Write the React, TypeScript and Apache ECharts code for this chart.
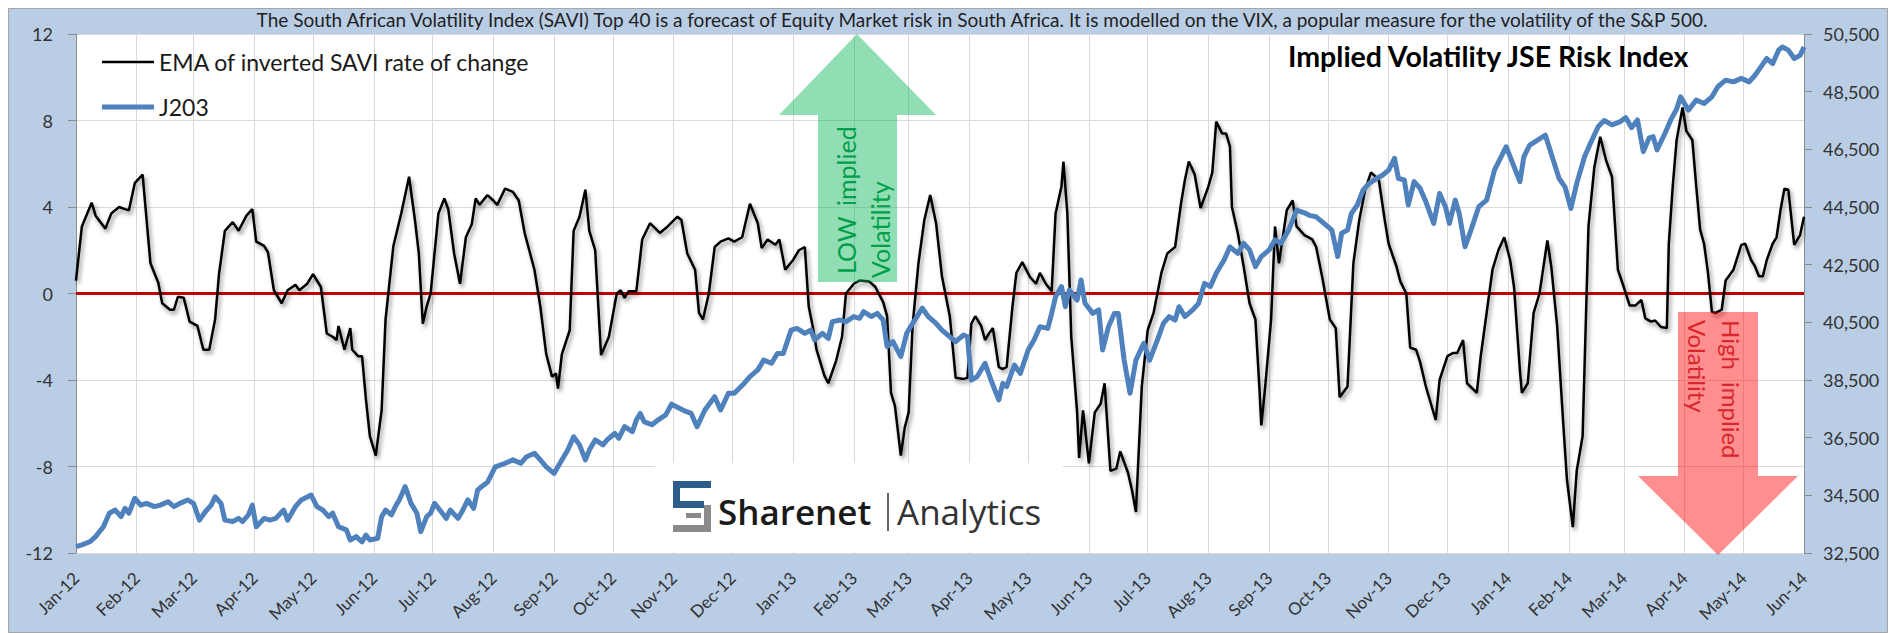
import React, { useEffect, useRef } from "react";
import * as echarts from "echarts";

// ---------- axis structure ----------
const MONTH_NAMES = ["Jan", "Feb", "Mar", "Apr", "May", "Jun", "Jul", "Aug", "Sep", "Oct", "Nov", "Dec"];
const AXIS_START = [2012, 0, 1]; // 1 Jan 2012
const AXIS_DAYS = 882; // up to 1 Jun 2014

const dayCategories: string[] = [];
for (let i = 0; i <= AXIS_DAYS; i++) {
  const d = new Date(AXIS_START[0], AXIS_START[1], AXIS_START[2] + i);
  const mm = String(d.getMonth() + 1).padStart(2, "0");
  const dd = String(d.getDate()).padStart(2, "0");
  dayCategories.push(`${d.getFullYear()}-${mm}-${dd}`);
}

const leftAxis = { min: -12, max: 12, interval: 4 };
const rightTicks = [32500, 34500, 36500, 38500, 40500, 42500, 44500, 46500, 48500, 50500];

// ---------- data (day offset from 1 Jan 2012) ----------
const emaDays = [
  0, 3, 8, 10, 15, 18, 22, 25, 27, 30, 34, 38, 42, 44, 48, 50, 52, 55, 58, 62, 65, 68, 71, 73, 76, 80, 83, 87, 90, 92,
  96, 98, 101, 105, 108, 112, 114, 118, 121, 125, 128, 131, 133, 134, 137, 140, 141, 144, 146, 148, 150, 153, 156, 158,
  162, 166, 170, 173, 175, 177, 179, 181, 185, 188, 190, 193, 196, 199, 202, 204, 206, 210, 213, 215, 219, 223, 226,
  229, 234, 237, 240, 243, 245, 246, 248, 252, 254, 257, 260, 262, 265, 268, 272, 276, 278, 280, 282, 286, 289, 293,
  298, 302, 307, 309, 312, 316, 318, 320, 323, 326, 329, 333, 336, 340, 344, 348, 350, 353, 357, 359, 362, 366, 369,
  372, 374, 376, 378, 382, 384, 388, 391, 393, 397, 400, 405, 408, 412, 414, 416, 418, 421, 423, 425, 427, 430, 433,
  436, 439, 442, 446, 449, 453, 455, 457, 459, 462, 464, 466, 468, 471, 473, 475, 478, 480, 483, 487, 490, 492, 495,
  498, 500, 503, 504, 506, 508, 511, 512, 514, 515, 517, 520, 523, 525, 528, 531, 533, 537, 539, 541, 544, 547, 550,
  554, 557, 561, 564, 566, 568, 571, 574, 578, 580, 582, 585, 587, 589, 590, 593, 596, 599, 602, 604, 605, 607, 610,
  612, 614, 618, 621, 623, 627, 631, 633, 636, 640, 643, 645, 649, 652, 655, 658, 661, 665, 668, 670, 674, 676, 679,
  681, 684, 686, 689, 694, 696, 700, 703, 705, 708, 710, 715, 717, 720, 723, 726, 729, 732, 734, 737, 738, 741, 744,
  747, 751, 753, 756, 759, 761, 764, 766, 769, 772, 775, 778, 781, 784, 787, 790, 793, 796, 799, 801, 804, 806, 809,
  812, 813, 815, 817, 820, 822, 825, 827, 829, 831, 833, 835, 837, 840, 842, 846, 850, 852, 855, 857, 859, 861, 863,
  866, 868, 870, 872, 874, 877, 880, 882,
];
const emaValues = [
  0.6, 3.1, 4.2, 3.6, 3.0, 3.7, 4.0, 3.9, 3.85, 5.1, 5.5, 1.4, 0.5, -0.45, -0.75, -0.75, -0.15, -0.2, -1.3, -1.5, -2.6,
  -2.6, -1.2, 0.9, 2.9, 3.3, 2.9, 3.6, 3.9, 2.4, 2.2, 1.9, 0.15, -0.45, 0.15, 0.4, 0.15, 0.45, 0.9, 0.3, -1.85, -2.0,
  -2.15, -1.5, -2.6, -1.6, -2.6, -2.9, -2.9, -4.9, -6.6, -7.5, -5.4, -1.2, 2.2, 3.7, 5.4, 3.4, 1.85, -1.4, -0.6, 0,
  3.7, 4.4, 3.9, 1.85, 0.45, 2.6, 3.2, 4.4, 4.1, 4.55, 4.3, 4.1, 4.85, 4.7, 4.3, 2.8, 1.1, -0.6, -2.8, -3.85, -3.7,
  -4.4, -2.8, -1.7, 2.9, 3.55, 4.8, 2.9, 2.0, -2.85, -2.0, 0, 0.15, -0.2, 0.1, 0.1, 2.5, 3.25, 2.8, 3.1, 3.55, 3.4,
  1.85, 1.1, -0.9, -1.2, 0, 2.15, 2.4, 2.55, 2.4, 2.6, 4.15, 3.25, 2.1, 2.5, 2.25, 2.5, 1.1, 1.55, 2.0, 2.15, -0.6,
  -1.5, -2.6, -3.8, -4.15, -3.1, -2.0, 0, 0.45, 0.6, 0.55, 0.3, -0.4, -1.05, -4.6, -5.2, -7.5, -6.2, -5.5, -1.5, 1.4,
  3.4, 4.55, 3.25, 0.8, -1.05, -3.9, -3.95, -3.9, -1.4, -1.05, -1.5, -2.15, -1.85, -1.6, -3.4, -3.5, -3.4, -0.6, 0.95,
  1.45, 0.75, 0.45, 0.95, 0.45, 0.1, 3.7, 4.95, 6.1, 3.7, -2.0, -5.5, -7.6, -5.4, -6.2, -7.85, -5.5, -5.1, -4.15,
  -8.2, -8.1, -7.3, -8.3, -9.1, -10.1, -4.3, -1.7, -0.9, 0.95, 1.85, 2.15, 4.15, 5.25, 6.1, 5.5, 3.95, 4.95, 5.6,
  7.95, 7.4, 7.4, 6.8, 4.0, 2.8, 1.25, -0.45, -1.2, -4.3, -6.1, -4.3, -1.2, 3.1, 1.4, 3.85, 4.3, 3.1, 2.7, 2.5, 2.15,
  0.8, -1.2, -1.6, -4.8, -4.3, 1.4, 3.4, 4.8, 5.6, 5.25, 3.4, 2.3, 1.25, 0.55, 0, -2.5, -2.6, -3.15, -4.3, -5.85,
  -4.0, -2.9, -2.75, -2.75, -2.15, -4.15, -4.6, -2.9, -0.9, 1.1, 2.0, 2.6, 1.55, 0.3, -3.55, -4.6, -4.15, -0.9, 0,
  2.45, 1.25, -1.5, -5.85, -8.6, -10.8, -8.2, -6.6, 3.1, 5.85, 7.25, 6.15, 5.4, 1.1, 0.3, -0.55, -0.55, -0.3, -1.15,
  -1.3, -1.25, -1.55, -1.6, 2.3, 4.95, 7.1, 8.6, 7.5, 7.1, 4.95, 2.95, 2.3, 0.95, -0.85, -0.9, -0.75, 0.6, 1.1, 2.25,
  2.3, 1.55, 1.25, 0.8, 0.8, 1.55, 2.3, 2.6, 3.85, 4.85, 4.8, 2.25, 2.7, 3.55,
];

const j203Days = [
  0, 3, 7, 10, 14, 17, 20, 23, 25, 27, 30, 33, 36, 40, 43, 47, 50, 53, 57, 60, 63, 66, 69, 71, 74, 76, 80, 83, 85, 88,
  90, 92, 96, 99, 102, 106, 108, 112, 115, 120, 123, 126, 129, 131, 134, 138, 140, 143, 146, 148, 150, 154, 156, 158,
  161, 163, 165, 168, 171, 174, 176, 179, 181, 183, 187, 189, 191, 195, 197, 200, 203, 205, 207, 210, 214, 219, 223,
  227, 230, 234, 237, 240, 244, 247, 251, 254, 257, 260, 262, 265, 269, 271, 275, 277, 280, 284, 286, 288, 290, 294,
  297, 301, 304, 308, 311, 314, 317, 321, 326, 329, 333, 336, 341, 344, 348, 351, 355, 358, 361, 365, 368, 372, 375,
  377, 381, 384, 386, 390, 393, 397, 400, 402, 406, 409, 412, 414, 417, 421, 424, 427, 432, 435, 439, 442, 446, 449,
  453, 455, 457, 460, 464, 467, 471, 473, 475, 479, 482, 486, 489, 492, 496, 498, 500, 503, 505, 507, 511, 513, 515,
  519, 522, 524, 527, 530, 532, 535, 538, 541, 545, 548, 552, 555, 558, 561, 563, 566, 570, 573, 576, 579, 582, 586,
  589, 593, 596, 599, 602, 605, 609, 612, 615, 619, 623, 627, 630, 633, 637, 641, 644, 646, 649, 651, 654, 657, 660,
  664, 667, 670, 673, 675, 678, 680, 683, 686, 689, 693, 696, 699, 701, 704, 706, 709, 712, 716, 720, 724, 730, 734,
  737, 739, 742, 746, 750, 754, 757, 760, 763, 766, 770, 773, 777, 780, 784, 788, 791, 794, 797, 800, 803, 805, 807,
  811, 814, 817, 819, 823, 827, 831, 835, 838, 842, 846, 850, 854, 857, 860, 863, 866, 869, 871, 874, 877, 880, 882,
];
const j203Values = [
  32720, 32780, 32890, 33070, 33410, 33880, 33990, 33760, 34050, 33880, 34400, 34160, 34220, 34110, 34160, 34280,
  34110, 34220, 34340, 34220, 33640, 33930, 34160, 34450, 34220, 33640, 33590, 33700, 33590, 33820, 34160, 33410,
  33700, 33640, 33700, 33990, 33640, 34110, 34340, 34510, 34110, 33990, 33760, 33880, 33410, 33300, 32950, 33070,
  32890, 33120, 32950, 33010, 33760, 33990, 33820, 34110, 34340, 34800, 34220, 33880, 33240, 33760, 33880, 34220,
  33880, 33700, 33990, 33700, 33930, 34340, 34050, 34680, 34800, 34950, 35490, 35610, 35730, 35610, 35840, 35960,
  35730, 35490, 35260, 35610, 36070, 36530, 36250, 35730, 36070, 36420, 36250, 36420, 36650, 36480, 36880, 36710,
  37110, 37340, 37050, 36950, 37110, 37290, 37660, 37520, 37420, 37340, 36880, 37460, 37920, 37460, 38040, 38040,
  38380, 38620, 38850, 39190, 39080, 39420, 39420, 40230, 40290, 40120, 40230, 39890, 40120, 39940, 40520, 40580,
  40520, 40700, 40640, 40870, 40700, 40810, 40580, 39660, 39830, 39310, 40120, 40460, 40990, 40700, 40460, 40230,
  40000, 39830, 40060, 40000, 38500, 38620, 39080, 38500, 37810, 38380, 38270, 39020, 38730, 39540, 39890, 40350,
  40290, 40810, 41390, 41740, 41040, 41620, 41270, 41970, 41160, 40810, 40930, 39540, 40350, 40810, 40810, 39190,
  38040, 39190, 39770, 39190, 39890, 40460, 40700, 40580, 41040, 40700, 40930, 41160, 41850, 41740, 42200, 42660,
  43120, 42890, 43240, 43010, 42430, 42780, 43010, 43360, 43240, 43700, 44390, 44300, 44200, 44160, 43930, 43700,
  42780, 43590, 43700, 44280, 44570, 45090, 45320, 45490, 45610, 45780, 46190, 45490, 45440, 44570, 45380, 45150,
  44680, 43930, 44970, 44510, 43930, 44740, 44280, 43120, 43700, 44510, 44740, 45780, 46590, 45900, 45380, 46240,
  46650, 46820, 46990, 46130, 45490, 45200, 44450, 45320, 46240, 46710, 47290, 47500, 47350, 47450, 47600, 47250,
  47520, 46420, 46900, 46940, 46480, 47050, 47520, 47900, 48320, 47860, 48210, 48090, 48320, 48670, 48900, 48840,
  48960, 48840, 49070, 49360, 49650, 49470, 49940, 50050, 49940, 49650, 49760, 50050,
];

const zeroLineDays = [0, AXIS_DAYS];
const zeroLineValues = [0, 0];

// ---------- texts ----------
const SERIES_EMA = "EMA of inverted SAVI rate of change";
const SERIES_J203 = "J203";
const TOP_NOTE =
  "The South African Volatility Index (SAVI) Top 40 is a forecast of Equity Market risk in South Africa. It is modelled on the VIX, a popular measure for the volatility of the S&P 500.";
const MAIN_TITLE = "Implied Volatility JSE Risk Index";

const FONT = "Lato, 'Liberation Sans', sans-serif";
const LOGO_FONT = "'Open Sans', sans-serif";

function fmtMonth(v: string) {
  const [y, m] = v.split("-");
  return `${MONTH_NAMES[parseInt(m, 10) - 1]}-${y.slice(2)}`;
}
const isMonthStart = (_i: number, v: string) => v.endsWith("-01");

const rotText = (text: string, x: number, y: number, rotation: number, fill: string, fontSize: number) => ({
  type: "text",
  z: 51,
  silent: true,
  x,
  y,
  rotation,
  style: { text, fontFamily: FONT, fontSize, fill, align: "left", verticalAlign: "middle" },
});

export default function App() {
  const ref = useRef<HTMLDivElement>(null);

  useEffect(() => {
    if (!ref.current) return;
    const chart = echarts.init(ref.current, undefined, { renderer: "svg" });
    const BLUE = "#2e5d8c";
    const GREY = "#8a8a8a";

    const option: any = {
      animation: false,
      backgroundColor: "#b9cde5",
      title: [
        {
          text: TOP_NOTE,
          left: 974,
          top: 2,
          padding: 0,
          textAlign: "center",
          textStyle: { fontFamily: FONT, fontSize: 19, fontWeight: "normal", color: "#1f1f1f" },
        },
        {
          text: MAIN_TITLE,
          left: 1280,
          top: 33,
          padding: 0,
          textStyle: { fontFamily: FONT, fontSize: 28.5, fontWeight: "bold", color: "#000" },
        },
      ],
      legend: {
        data: [
          { name: SERIES_EMA, icon: "path://M0,0 H52 V2.5 H0 Z" },
          { name: SERIES_J203, icon: "path://M0,0 H52 V5 H0 Z" },
        ],
        orient: "vertical",
        left: 94,
        top: 42,
        padding: 0,
        itemWidth: 52,
        itemHeight: 14,
        itemGap: 21,
        selectedMode: false,
        textStyle: { fontFamily: FONT, fontSize: 23, color: "#1a1a1a", lineHeight: 24 },
      },
      grid: {
        left: 68,
        right: 84,
        top: 26,
        bottom: 80,
        show: true,
        backgroundColor: "#ffffff",
        borderWidth: 0,
      },
      xAxis: {
        type: "category",
        data: dayCategories,
        boundaryGap: false,
        axisLine: { show: true, lineStyle: { color: "#8c8c8c" } },
        axisTick: { show: false },
        axisLabel: {
          interval: isMonthStart,
          formatter: fmtMonth,
          rotate: 45,
          margin: 22,
          fontFamily: FONT,
          fontSize: 17,
          color: "#333",
        },
        splitLine: { show: true, interval: isMonthStart, lineStyle: { color: "#d9d9d9", width: 1 } },
      },
      yAxis: [
        {
          type: "value",
          position: "left",
          min: leftAxis.min,
          max: leftAxis.max,
          interval: leftAxis.interval,
          axisLine: { show: true, lineStyle: { color: "#8c8c8c" } },
          axisTick: { show: true, inside: false, length: 8, lineStyle: { color: "#8c8c8c" } },
          axisLabel: { margin: 23, fontFamily: FONT, fontSize: 18, color: "#333" },
          splitLine: { show: true, lineStyle: { color: "#d9d9d9", width: 1 } },
        },
        {
          type: "value",
          position: "right",
          min: rightTicks[0],
          max: rightTicks[rightTicks.length - 1],
          axisLine: { show: true, lineStyle: { color: "#8c8c8c" } },
          axisTick: { show: true, length: 8, customValues: rightTicks, lineStyle: { color: "#8c8c8c" } },
          axisLabel: {
            margin: 19,
            customValues: rightTicks,
            fontFamily: FONT,
            fontSize: 18,
            color: "#333",
            formatter: (v: number) => v.toLocaleString("en-US"),
          },
          splitLine: { show: false },
        },
      ],
      series: [
        {
          name: "zero",
          type: "line",
          yAxisIndex: 0,
          data: zeroLineDays.map((d, i) => [d, zeroLineValues[i]]),
          symbol: "none",
          silent: true,
          z: 1,
          lineStyle: { color: "#c00000", width: 3 },
        },
        {
          name: SERIES_EMA,
          type: "line",
          yAxisIndex: 0,
          data: emaDays.map((d, i) => [d, emaValues[i]]),
          symbol: "none",
          z: 3,
          color: "#000000",
          lineStyle: {
            color: "#000000",
            width: 2.5,
            shadowColor: "rgba(0,0,0,0.45)",
            shadowBlur: 4,
            shadowOffsetX: 2,
            shadowOffsetY: 3,
          },
        },
        {
          name: SERIES_J203,
          type: "line",
          yAxisIndex: 1,
          data: j203Days.map((d, i) => [d, j203Values[i]]),
          symbol: "none",
          z: 4,
          color: "#4f81bd",
          lineStyle: { color: "#4f81bd", width: 5, join: "round" },
        },
      ],
      graphic: [
        {
          type: "rect",
          z: 1,
          silent: true,
          shape: { x: 0.5, y: 0.5, width: 1879, height: 624 },
          style: { fill: "none", stroke: "#a6a6a6", lineWidth: 1 },
        },
        // green "low volatility" arrow
        {
          type: "polygon",
          z: 50,
          silent: true,
          shape: {
            points: [
              [849, 26],
              [928, 107],
              [889, 107],
              [889, 274],
              [810, 274],
              [810, 107],
              [771, 107],
            ],
          },
          style: { fill: "rgba(0,176,80,0.43)" },
        },
        rotText("LOW", 838, 266, Math.PI / 2, "#00a04a", 25),
        rotText("implied", 838, 198, Math.PI / 2, "#00a04a", 25),
        rotText("Volatility", 872, 270, Math.PI / 2, "#00a04a", 25),
        // red "high volatility" arrow
        {
          type: "polygon",
          z: 50,
          silent: true,
          shape: {
            points: [
              [1710, 547],
              [1790, 468],
              [1750, 468],
              [1750, 304],
              [1670, 304],
              [1670, 468],
              [1630, 468],
            ],
          },
          style: { fill: "rgba(255,0,0,0.44)" },
        },
        rotText("High  implied", 1723, 312, -Math.PI / 2, "#d9262c", 24),
        rotText("Volatility", 1689, 312, -Math.PI / 2, "#d9262c", 24),
        // Sharenet Analytics logo box
        {
          type: "group",
          z: 60,
          silent: true,
          children: [
            {
              type: "rect",
              z: 60,
              shape: { x: 647, y: 455, width: 408, height: 89 },
              style: { fill: "#ffffff" },
            },
            { type: "rect", z: 61, shape: { x: 665, y: 473, width: 38, height: 7 }, style: { fill: BLUE } },
            { type: "rect", z: 61, shape: { x: 665, y: 473, width: 7, height: 27 }, style: { fill: BLUE } },
            { type: "rect", z: 61, shape: { x: 665, y: 493, width: 31, height: 7 }, style: { fill: BLUE } },
            { type: "rect", z: 61, shape: { x: 696, y: 497, width: 7, height: 27 }, style: { fill: GREY } },
            { type: "rect", z: 61, shape: { x: 665, y: 517, width: 38, height: 7 }, style: { fill: GREY } },
            { type: "rect", z: 61, shape: { x: 678, y: 505, width: 15, height: 5 }, style: { fill: GREY } },
            {
              type: "text",
              z: 62,
              x: 710,
              y: 503,
              style: {
                text: "Sharenet",
                fontFamily: LOGO_FONT,
                fontSize: 35,
                fontWeight: 600,
                fill: "#1a1a1a",
                verticalAlign: "middle",
              },
            },
            {
              type: "line",
              z: 62,
              shape: { x1: 880, y1: 485, x2: 880, y2: 523 },
              style: { stroke: "#333", lineWidth: 1.5 },
            },
            {
              type: "text",
              z: 62,
              x: 889,
              y: 503,
              style: { text: "Analytics", fontFamily: LOGO_FONT, fontSize: 35, fill: "#333333", verticalAlign: "middle" },
            },
          ],
        },
      ],
    };

    chart.setOption(option);
    return () => chart.dispose();
  }, []);

  return <div ref={ref} style={{ width: 1880, height: 625 }} />;
}
